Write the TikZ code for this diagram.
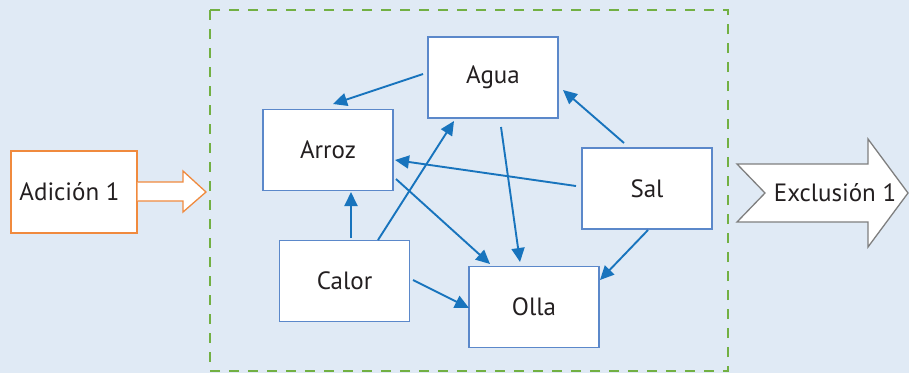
\documentclass[tikz,border=0pt]{standalone}
\usepackage{fontspec}
\setmainfont{PT Sans}
\usetikzlibrary{arrows.meta,calc}
\definecolor{bgblue}{HTML}{E0EAF5}
\definecolor{dashgreen}{HTML}{72B043}
\definecolor{boxblue}{HTML}{5B88CA}
\definecolor{arrblue}{HTML}{1874BD}
\definecolor{orangeb}{HTML}{F08A3E}
\definecolor{grayb}{HTML}{7F7F7F}
\definecolor{txt}{HTML}{231F20}
\tikzset{
  elem/.style={draw=boxblue, line width=1.3pt, fill=white, minimum width=130pt, minimum height=81pt, inner sep=0pt, font=\fontsize{25}{28}\selectfont, text=txt},
  arr/.style={draw=arrblue, line width=1.9pt, -{Triangle[length=14pt,width=13pt]}},
  lbl/.style={font=\fontsize{25}{28}\selectfont, text=txt, inner sep=0pt}
}
\begin{document}
\begin{tikzpicture}[x=1pt,y=-1pt]
\fill[bgblue] (0,0) rectangle (909,373);
\useasboundingbox (0,0) rectangle (909,373);
% dashed frame
\draw[dashgreen, line width=2pt, dash pattern=on 10pt off 9pt] (210,10) rectangle (728,371);
% elements
\node[elem] (agua) at (493,77.5) {Agua};
\node[elem] (arroz) at (328,150) {Arroz};
\node[elem] (calor) at (344.5,281) {Calor};
\node[elem] (olla) at (534,307) {Olla};
\node[elem] (sal) at (647,188.5) {Sal};
% connectors
\draw[arr] ($(agua.center)+(-70,-3.5)$) -- ($(arroz.center)+(5,-46)$);
\draw[arr] ($(sal.center)+(-23,-45.5)$) -- ($(agua.center)+(70,12.5)$);
\draw[arr] ($(sal.center)+(-71,-2.5)$) -- ($(arroz.center)+(67,10)$);
\draw[arr] ($(sal.center)+(1,41.5)$) -- ($(olla.center)+(66,-27)$);
\draw[arr] ($(calor.center)+(6.5,-43)$) -- ($(arroz.center)+(23,42)$);
\draw[arr] ($(calor.center)+(33.5,-41)$) -- ($(agua.center)+(-39,43.5)$);
\draw[arr] ($(arroz.center)+(68,29)$) -- ($(olla.center)+(-44,-43)$);
\draw[arr] ($(agua.center)+(8,49.5)$) -- ($(olla.center)+(-14,-45)$);
\draw[arr] ($(calor.center)+(68.5,-1)$) -- ($(olla.center)+(-65,1)$);
% Adicion
\node[draw=orangeb, line width=1.3pt, fill=white, minimum width=126pt, minimum height=82pt, inner sep=0pt] (adicion) at (74,192) {};
\node[lbl] (adtext) at (69.5,192) {Adición 1};
\draw[orangeb, line width=1.3pt, fill=white] (adicion.east |- 0,182) -- (183,182) -- (183,171) -- (206,192) -- (183,212) -- (183,201) -- (adicion.east |- 0,201);
% Exclusion
\draw[grayb, line width=1.3pt, fill=white] (737,164) -- (868,164) -- (868,139) -- (908,193) -- (868,247) -- (868,222) -- (737,222) -- (765,193) -- cycle;
\node[lbl] (extext) at (835,193) {Exclusión 1};
\end{tikzpicture}
\end{document}
